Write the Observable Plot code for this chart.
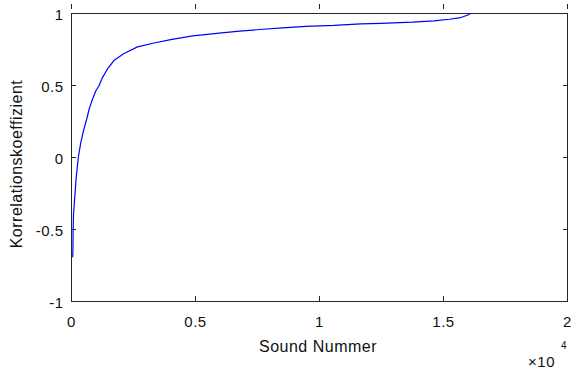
<!DOCTYPE html>
<html><head><meta charset="utf-8">
<script src="https://cdn.jsdelivr.net/npm/d3@7"></script>
<script src="https://cdn.jsdelivr.net/npm/@observablehq/plot@0.6"></script>
<style>html,body{margin:0;padding:0;background:#fff}</style>
</head><body><div id="chart"></div>
<script>
const soundNummer = [50, 58, 66, 80, 120, 190, 275, 370, 490, 617, 710, 847, 980, 1113, 1250, 1450, 1718, 2120, 2660, 3330, 4000, 4880, 5375, 6050, 6790, 7590, 8510, 9450, 10580, 11670, 12470, 13750, 14620, 15230, 15700, 15990, 16070];
const korrelation = [-0.69, -0.62, -0.50, -0.40, -0.30, -0.14, 0.0, 0.10, 0.19, 0.269, 0.335, 0.405, 0.462, 0.50, 0.555, 0.615, 0.675, 0.722, 0.768, 0.795, 0.819, 0.844, 0.853, 0.865, 0.877, 0.889, 0.900, 0.911, 0.917, 0.928, 0.932, 0.940, 0.949, 0.960, 0.972, 0.990, 1.0];
const xTicks = [0, 5000, 10000, 15000, 20000];
const xTickLabels = ["0", "0.5", "1", "1.5", "2"];
const yTicks = [-1, -0.5, 0, 0.5, 1];
const yTickLabels = ["-1", "-0.5", "0", "0.5", "1"];
const xLabel = "Sound Nummer";
const yLabel = "Korrelationskoeffizient";
const xMultiplier = "×10";
const xExponent = "4";

const data = soundNummer.map((x, i) => ({x, y: korrelation[i]}));
const ink = "#262626";
const W = 571, H = 369, mL = 71, mR = 4, mT = 13, mB = 68;
const tickLen = 5;

const chart = Plot.plot({
  width: W, height: H,
  marginLeft: mL, marginRight: mR, marginTop: mT, marginBottom: mB,
  style: {fontFamily: "'Liberation Sans', Arial, sans-serif", fontSize: "15px", color: ink, background: "#fff", letterSpacing: "0.5px"},
  x: {domain: [0, 20000], ticks: xTicks, label: null},
  y: {domain: [-1, 1], ticks: yTicks, label: null},
  marks: [
    Plot.frame({stroke: ink, strokeWidth: 1}),
    Plot.line(data, {x: "x", y: "y", stroke: "#0000ff", strokeWidth: 1.2}),
    Plot.axisX({anchor: "bottom", ticks: xTicks, tickSize: tickLen, dy: -tickLen, tickFormat: () => "", label: null, stroke: ink}),
    Plot.axisX({anchor: "top", ticks: xTicks, tickSize: tickLen, dy: -tickLen, tickFormat: () => "", label: null, stroke: ink}),
    Plot.axisY({anchor: "left", ticks: yTicks, tickSize: tickLen, dx: tickLen, tickFormat: () => "", label: null, stroke: ink}),
    Plot.axisY({anchor: "right", ticks: yTicks, tickSize: tickLen, dx: -tickLen, tickFormat: () => "", label: null, stroke: ink}),
    Plot.axisX({anchor: "bottom", ticks: xTicks, tickSize: 0, tickPadding: 15, tickFormat: d => xTickLabels[xTicks.indexOf(d)], label: null, fill: "#111"}),
    Plot.axisY({anchor: "left", ticks: yTicks, tickSize: 0, tickPadding: 8, dy: 1.5, tickFormat: d => yTickLabels[yTicks.indexOf(d)], label: null, fill: "#111"}),
    Plot.text([xLabel], {frameAnchor: "bottom", textAnchor: "middle", dx: -1.5, dy: 45, lineAnchor: "middle", fontSize: 16, fill: "#111", text: d => d}),
    Plot.text([yLabel], {frameAnchor: "left", textAnchor: "middle", dx: -55, dy: 6.5, rotate: -90, lineAnchor: "middle", fontSize: 16, fill: "#111", text: d => d}),
    Plot.text([xMultiplier], {frameAnchor: "bottom-right", textAnchor: "middle", dx: -26, dy: 61, lineAnchor: "middle", fontSize: 15, fill: "#111", text: d => d}),
    Plot.text([xExponent], {frameAnchor: "bottom-right", textAnchor: "middle", dx: -3.5, dy: 44, lineAnchor: "middle", fontSize: 10, fill: "#111", text: d => d})
  ]
});
document.getElementById("chart").appendChild(chart);
</script>
</body></html>
